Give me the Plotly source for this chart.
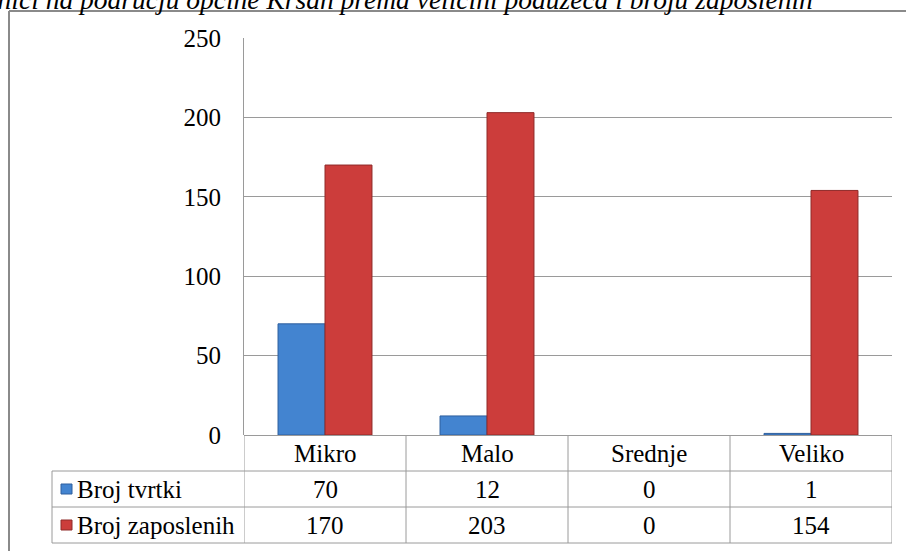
import plotly.graph_objects as go

categories = ["Mikro", "Malo", "Srednje", "Veliko"]
series_names = ["Broj tvrtki", "Broj zaposlenih"]
broj_tvrtki = [70, 12, 0, 1]
broj_zaposlenih = [170, 203, 0, 154]
y_ticks = [0, 50, 100, 150, 200, 250]
title_text = "Poduzetnici na području općine Kršan prema veličini poduzeća i broju zaposlenih"

W, H = 906, 551
L, R, T, B = 244, 14, 38, 116
PW, PH = W - L - R, H - T - B
FONT = "Liberation Serif"
FS = 25
GRID = "#9a9a9a"
BLUE, BLUE_E = "#4384d0", "#2e5f9e"
RED, RED_E = "#cc3d3b", "#8f2a29"


def px(xp):
    return (xp - L) / PW


def py(yp):
    return (T + PH - yp) / PH


fig = go.Figure()
for vals, name, col, edge in zip([broj_tvrtki, broj_zaposlenih], series_names,
                                 [BLUE, RED], [BLUE_E, RED_E]):
    fig.add_trace(go.Bar(x=categories, y=vals, name=name,
                         marker=dict(color=col,
                                     line=dict(color=edge, width=[1 if v > 0 else 0 for v in vals]))))

shapes = []
line = dict(color=GRID, width=1)
for yp in (471, 507, 543):
    shapes.append(dict(type="line", xref="paper", yref="paper", x0=px(52), x1=1,
                       y0=py(yp), y1=py(yp), line=line))
for i in range(len(categories) + 1):
    shapes.append(dict(type="line", xref="x", yref="paper", x0=i - 0.5, x1=i - 0.5,
                       y0=0, y1=py(543), line=line))
shapes.append(dict(type="line", xref="paper", yref="paper", x0=px(52), x1=px(52),
                   y0=py(471), y1=py(543), line=line))
frame = dict(color="#8a8a8a", width=2)
shapes.append(dict(type="line", xref="paper", yref="paper", x0=px(9), x1=px(9),
                   y0=py(11), y1=py(560), line=frame))
shapes.append(dict(type="line", xref="paper", yref="paper", x0=px(9), x1=px(910),
                   y0=py(11), y1=py(11), line=frame))
row_centers = [489, 525]
for yc, col, edge in zip(row_centers, [BLUE, RED], [BLUE_E, RED_E]):
    shapes.append(dict(type="rect", xref="paper", yref="paper", x0=px(61), x1=px(72),
                       y0=py(yc + 5), y1=py(yc - 5), fillcolor=col,
                       line=dict(color=edge, width=1)))

annotations = []
font = dict(family=FONT, size=FS, color="#000000")
for c in categories:
    annotations.append(dict(x=c, xref="x", y=py(453), yref="paper", text=c,
                            showarrow=False, font=font, xanchor="center", yanchor="middle"))
for name, vals, yc in zip(series_names, [broj_tvrtki, broj_zaposlenih], row_centers):
    annotations.append(dict(x=px(75), xref="paper", y=py(yc), yref="paper", text=name,
                            showarrow=False, font=font, xanchor="left", yanchor="middle"))
    for c, v in zip(categories, vals):
        annotations.append(dict(x=c, xref="x", y=py(yc), yref="paper", text=str(v),
                                showarrow=False, font=font, xanchor="center", yanchor="middle"))
annotations.append(dict(x=px(815), xref="paper", y=py(0), yref="paper", text="<i>" + title_text + "</i>",
                        showarrow=False, font=dict(family=FONT, size=27.5, color="#000000"),
                        xanchor="right", yanchor="middle"))

fig.update_layout(
    width=W, height=H, autosize=False,
    margin=dict(l=L, r=R, t=T, b=B, pad=0),
    paper_bgcolor="white", plot_bgcolor="white",
    showlegend=False,
    barmode="group", bargap=0.42, bargroupgap=0,
    font=font,
    shapes=shapes, annotations=annotations,
    xaxis=dict(showticklabels=False, showgrid=False, showline=False, zeroline=False,
               range=[-0.5, 3.5], fixedrange=True),
    yaxis=dict(range=[0, 250], tickvals=y_ticks, showgrid=True, gridcolor=GRID, gridwidth=1,
               showline=True, linecolor=GRID, linewidth=1, zeroline=True, zerolinecolor=GRID,
               zerolinewidth=1, ticks="", ticklabelstandoff=17,
               tickfont=dict(family=FONT, size=FS, color="#000000"), fixedrange=True),
)

fig.write_html("out.html", config={"displayModeBar": False},
               post_script="document.body.style.margin='0';document.body.style.overflow='hidden';")
